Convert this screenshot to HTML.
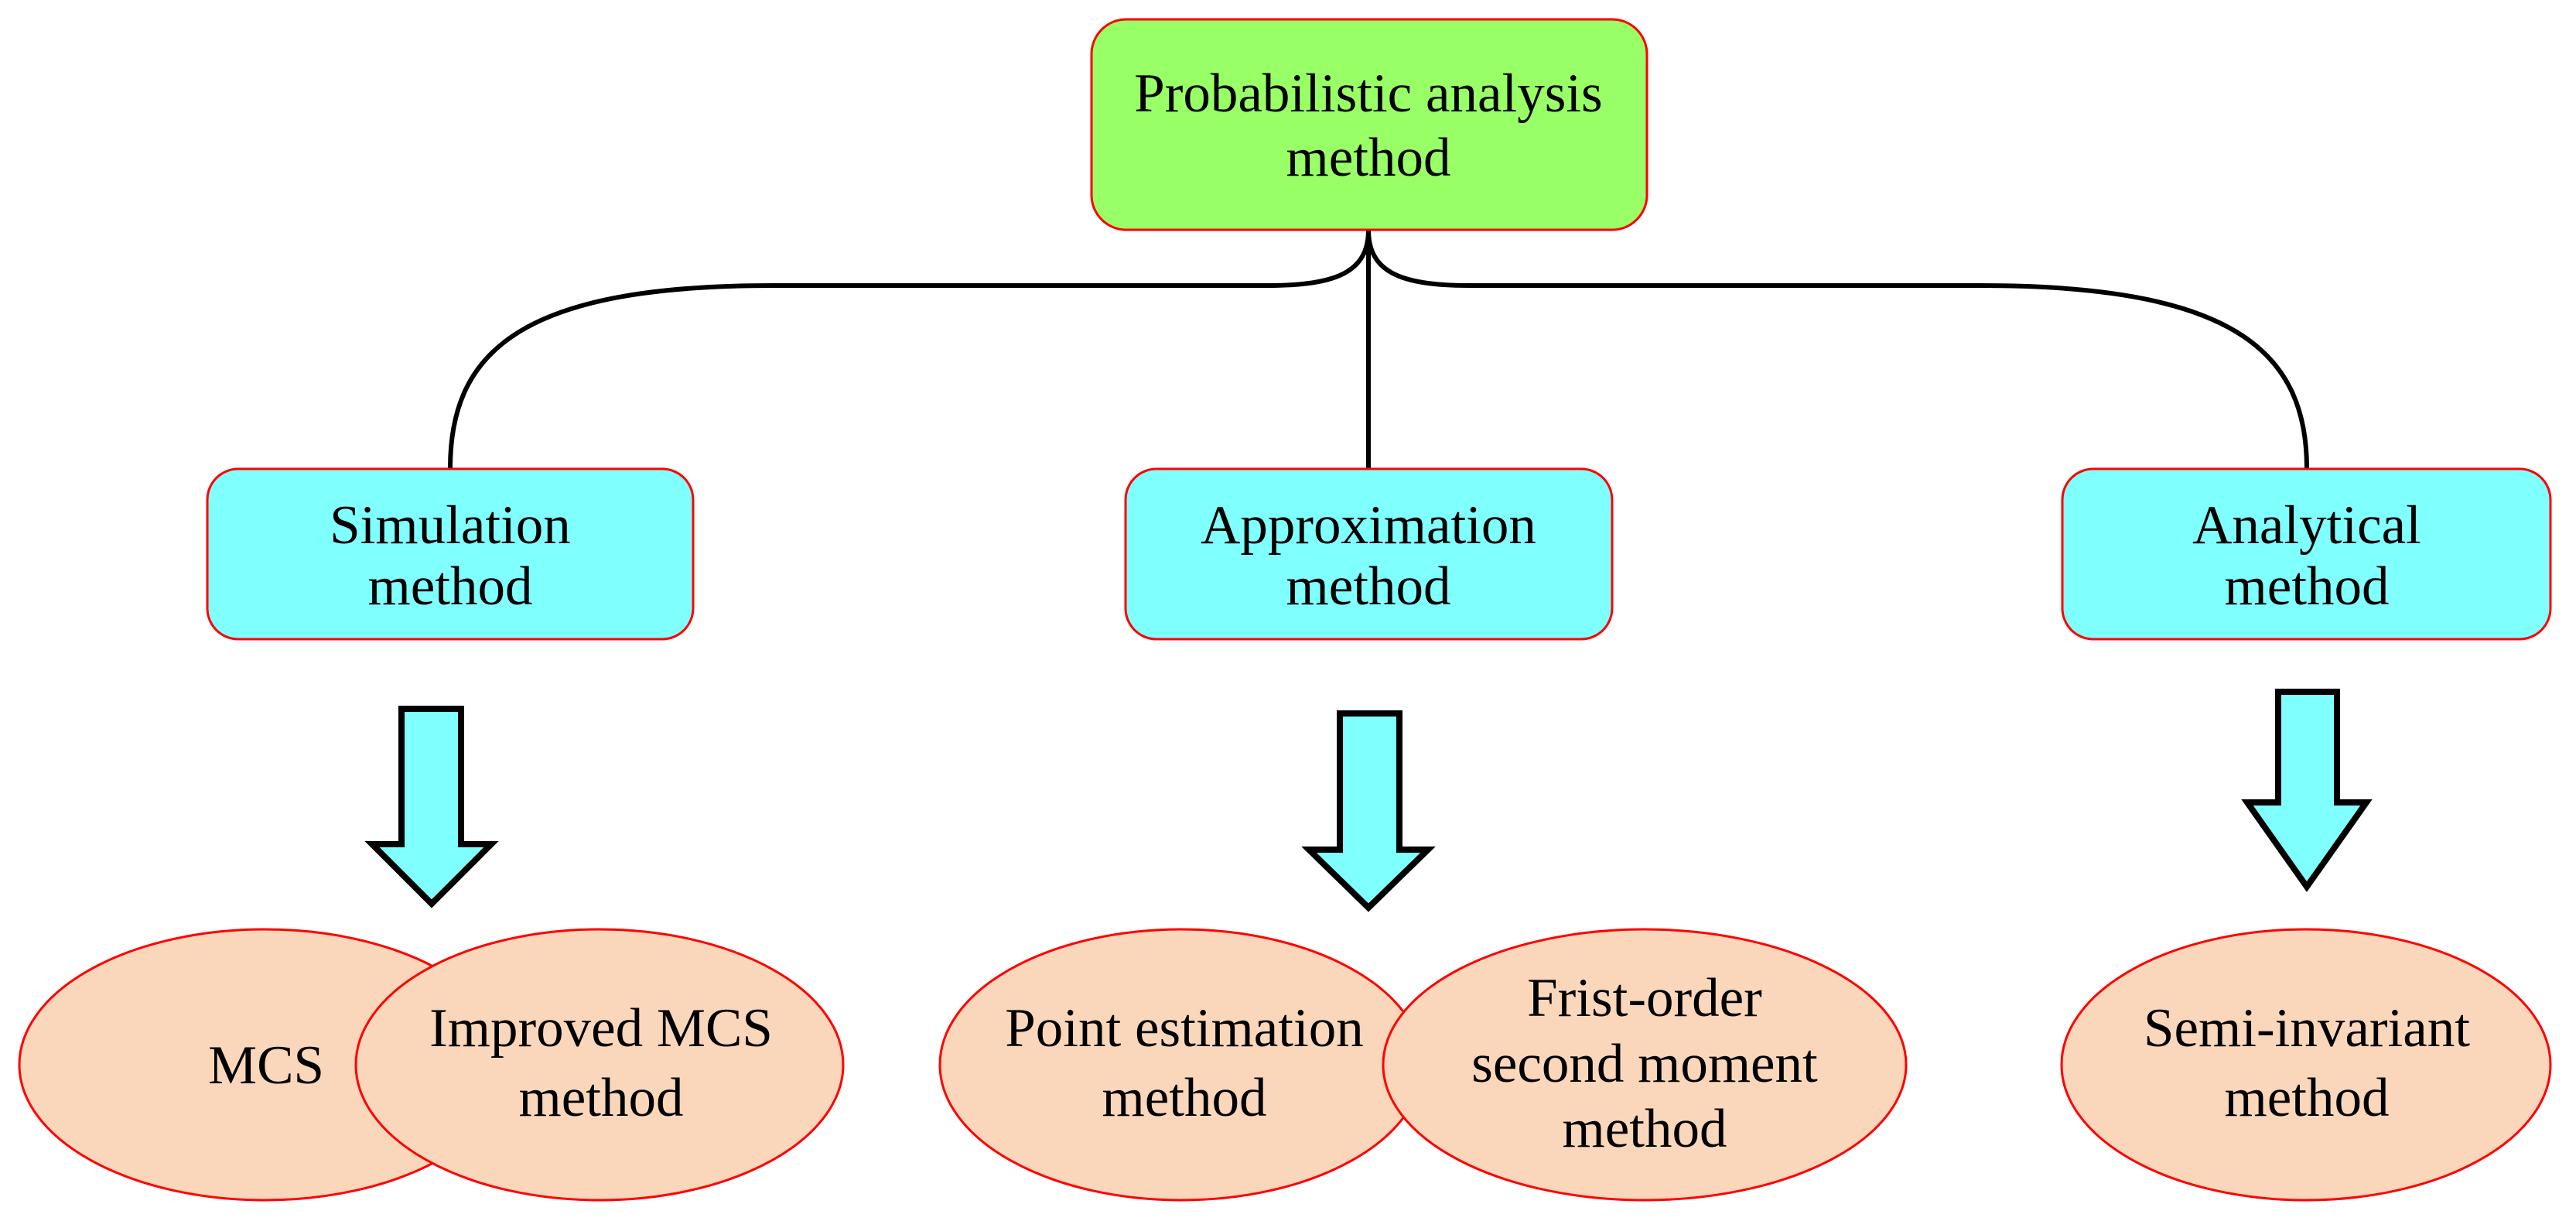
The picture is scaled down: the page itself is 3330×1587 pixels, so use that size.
<!DOCTYPE html>
<html><head><meta charset="utf-8"><style>
html,body{margin:0;padding:0;background:#fff}
svg text{font-family:"Liberation Serif",serif;font-size:71px;fill:#000;text-anchor:middle}
</style></head><body>
<svg width="3330" height="1582" viewBox="0 0 3330 1582" xmlns="http://www.w3.org/2000/svg">
<g fill="none" stroke="#000" stroke-width="6">
<path d="M1769,297 C1769,350 1730,369 1640,369 L1000,369 C680,369 582,450 582,605"/>
<path d="M1769,297 C1769,350 1808,369 1898,369 L2560,369 C2880,369 2982,450 2982,605"/>
<line x1="1769" y1="297" x2="1769" y2="605"/>
</g>
<rect x="1411" y="25" width="718" height="272" rx="45" fill="#99ff66" stroke="#ff0000" stroke-width="3"/>
<text x="1769" y="144">Probabilistic analysis</text>
<text x="1769" y="227">method</text>
<g fill="#80ffff" stroke="#ff0000" stroke-width="3">
<rect x="268" y="606" width="628" height="220" rx="40"/>
<rect x="1455" y="606" width="629" height="220" rx="40"/>
<rect x="2666" y="606" width="631" height="220" rx="40"/>
</g>
<text x="582" y="702">Simulation</text><text x="582" y="781">method</text>
<text x="1769" y="702">Approximation</text><text x="1769" y="781">method</text>
<text x="2982" y="702">Analytical</text><text x="2982" y="781">method</text>
<g fill="#80ffff" stroke="#000" stroke-width="8" stroke-linejoin="miter">
<polygon points="519,916 596,916 596,1091 635,1091 558,1168 481,1091 519,1091"/>
<polygon points="1732,922 1809,922 1809,1098 1846,1098 1769,1173 1692,1098 1732,1098"/>
<polygon points="2945,894 3021,894 3021,1037 3059,1037 2982,1146 2905,1037 2945,1037"/>
</g>
<g fill="#fad7bb" stroke="#ff0000" stroke-width="3">
<ellipse cx="342" cy="1376" rx="317" ry="175"/>
<ellipse cx="775" cy="1376" rx="315" ry="175"/>
<ellipse cx="1527" cy="1376" rx="312" ry="175"/>
<ellipse cx="2126" cy="1376" rx="338" ry="175"/>
<ellipse cx="2981" cy="1376" rx="316" ry="175"/>
</g>
<text x="344" y="1400">MCS</text>
<text x="777" y="1352">Improved MCS</text><text x="777" y="1442">method</text>
<text x="1531" y="1352">Point estimation</text><text x="1531" y="1442">method</text>
<text x="2126" y="1313">Frist-order</text><text x="2126" y="1398">second moment</text><text x="2126" y="1482">method</text>
<text x="2982" y="1352">Semi-invariant</text><text x="2982" y="1442">method</text>
</svg>
</body></html>
